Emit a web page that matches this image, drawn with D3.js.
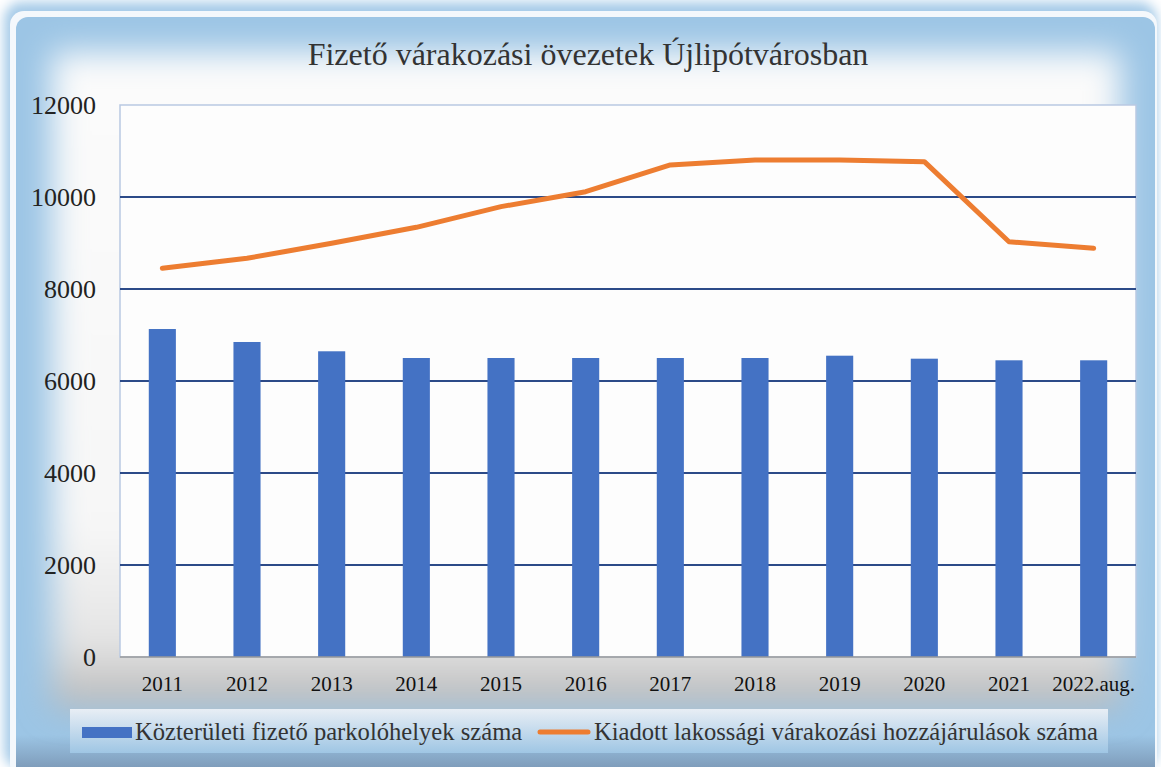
<!DOCTYPE html>
<html><head><meta charset="utf-8">
<script src="https://cdn.jsdelivr.net/npm/d3@7"></script>
<style>html,body{margin:0;padding:0;background:#fff;overflow:hidden}</style>
</head><body>
<svg id="c" width="1161" height="767"></svg>
<script>
const categories = ["2011","2012","2013","2014","2015","2016","2017","2018","2019","2020","2021","2022.aug."];
const parkingSpaces = [7130,6848,6646,6500,6500,6500,6500,6500,6550,6485,6450,6450];
const permits = [8450,8667,8993,9341,9790,10116,10696,10804,10804,10768,9028,8884];
const yTicks = [0,2000,4000,6000,8000,10000,12000];
const title = "Fizető várakozási övezetek Újlipótvárosban";
const seriesNames = ["Közterületi fizető parkolóhelyek száma","Kiadott lakossági várakozási hozzájárulások száma"];

const svg = d3.select("#c");
const W = 1161, H = 767;
const defs = svg.append("defs");
const blur = defs.append("filter").attr("id","blur").attr("x","-20%").attr("y","-20%").attr("width","140%").attr("height","140%");
blur.append("feGaussianBlur").attr("stdDeviation",16);
const blur2 = defs.append("filter").attr("id","blur2").attr("x","-20%").attr("y","-20%").attr("width","140%").attr("height","140%");
blur2.append("feGaussianBlur").attr("stdDeviation",6);
const ig = defs.append("linearGradient").attr("id","inner").attr("x1",0).attr("y1",0).attr("x2",0).attr("y2",1);
ig.append("stop").attr("offset","0%").attr("stop-color","#fbfbfb");
ig.append("stop").attr("offset","72%").attr("stop-color","#f7f7f7");
ig.append("stop").attr("offset","90%").attr("stop-color","#e4e4e4");
ig.append("stop").attr("offset","100%").attr("stop-color","#b6b6b6");
const lg = defs.append("linearGradient").attr("id","leg").attr("x1",0).attr("y1",0).attr("x2",0).attr("y2",1);
lg.append("stop").attr("offset","0%").attr("stop-color","#e8eef5");
lg.append("stop").attr("offset","100%").attr("stop-color","#9fc6e4");
const bg = defs.append("linearGradient").attr("id","bot").attr("x1",0).attr("y1",0).attr("x2",0).attr("y2",1);
bg.append("stop").attr("offset","0%").attr("stop-color","#9cc5e5");
bg.append("stop").attr("offset","100%").attr("stop-color","#7f9dbb");

// outer glow / frame
svg.append("rect").attr("x",4).attr("y",2).attr("width",W-8).attr("height",H).attr("rx",18)
  .attr("fill","#a6cbe8").attr("filter","url(#blur2)");
svg.append("rect").attr("x",10).attr("y",11).attr("width",W-14).attr("height",H).attr("rx",14)
  .attr("fill","#f4f8fc");
svg.append("rect").attr("x",16).attr("y",17).attr("width",W-22).attr("height",H-17).attr("rx",12)
  .attr("fill","#9cc5e5");
svg.append("rect").attr("x",16).attr("y",735).attr("width",W-22).attr("height",32)
  .attr("fill","url(#bot)");
// inner glow
svg.append("rect").attr("x",52).attr("y",52).attr("width",1068).attr("height",656)
  .attr("fill","url(#inner)").attr("filter","url(#blur)");

const m = {left:120, right:1136, top:105, bottom:657};
const x = d3.scaleBand().domain(categories).range([m.left,m.right]).paddingInner(0.68).paddingOuter(0.34);
const xc = d => x(d) + x.bandwidth()/2;
const y = d3.scaleLinear().domain([0,12000]).range([m.bottom,m.top]);

// plot area
svg.append("rect").attr("x",m.left).attr("y",m.top).attr("width",m.right-m.left).attr("height",m.bottom-m.top)
  .attr("fill","#fdfdfd").attr("stroke","#b9c9e2").attr("stroke-width",1.5);

// gridlines
svg.append("g").selectAll("line").data(yTicks.filter(t=>t>0 && t<12000)).join("line")
  .attr("x1",m.left).attr("x2",m.right).attr("y1",d=>y(d)).attr("y2",d=>y(d))
  .attr("stroke","#2c4a88").attr("stroke-width",2);

// bars
svg.append("g").selectAll("rect").data(parkingSpaces).join("rect")
  .attr("x",(d,i)=>x(categories[i])).attr("width",x.bandwidth())
  .attr("y",d=>y(d)).attr("height",d=>y(0)-y(d)).attr("fill","#4472c4");

// baseline
svg.append("line").attr("x1",m.left).attr("x2",m.right).attr("y1",y(0)).attr("y2",y(0))
  .attr("stroke","#9a9a9a").attr("stroke-width",1.5);

// line
const line = d3.line().x((d,i)=>xc(categories[i])).y(d=>y(d));
svg.append("path").datum(permits).attr("d",line).attr("fill","none")
  .attr("stroke","#ed7d31").attr("stroke-width",5).attr("stroke-linejoin","round").attr("stroke-linecap","round");

// axes labels
const font = "'Liberation Serif','Times New Roman',serif";
svg.append("g").selectAll("text").data(yTicks).join("text")
  .attr("x",96).attr("y",d=>y(d)).attr("dy","0.35em").attr("text-anchor","end")
  .attr("font-family",font).attr("font-size",26).attr("fill","#222").text(d=>d);
svg.append("g").selectAll("text").data(categories).join("text")
  .attr("x",d=>xc(d)).attr("y",691).attr("text-anchor","middle")
  .attr("font-family",font).attr("font-size",21).attr("fill","#111").text(d=>d);

// title
svg.append("text").attr("x",588).attr("y",65).attr("text-anchor","middle")
  .attr("font-family",font).attr("font-size",32).attr("fill","#333").text(title);

// legend
svg.append("rect").attr("x",70).attr("y",709).attr("width",1038).attr("height",44).attr("fill","url(#leg)");
svg.append("rect").attr("x",82).attr("y",727).attr("width",50).attr("height",11).attr("fill","#4472c4");
svg.append("text").attr("x",135).attr("y",740).attr("font-family",font).attr("font-size",24.6).attr("fill","#333").text(seriesNames[0]);
svg.append("line").attr("x1",540).attr("x2",588).attr("y1",732).attr("y2",732).attr("stroke","#ed7d31").attr("stroke-width",5).attr("stroke-linecap","round");
svg.append("text").attr("x",594).attr("y",740).attr("font-family",font).attr("font-size",24.6).attr("fill","#333").text(seriesNames[1]);
</script>
</body></html>
